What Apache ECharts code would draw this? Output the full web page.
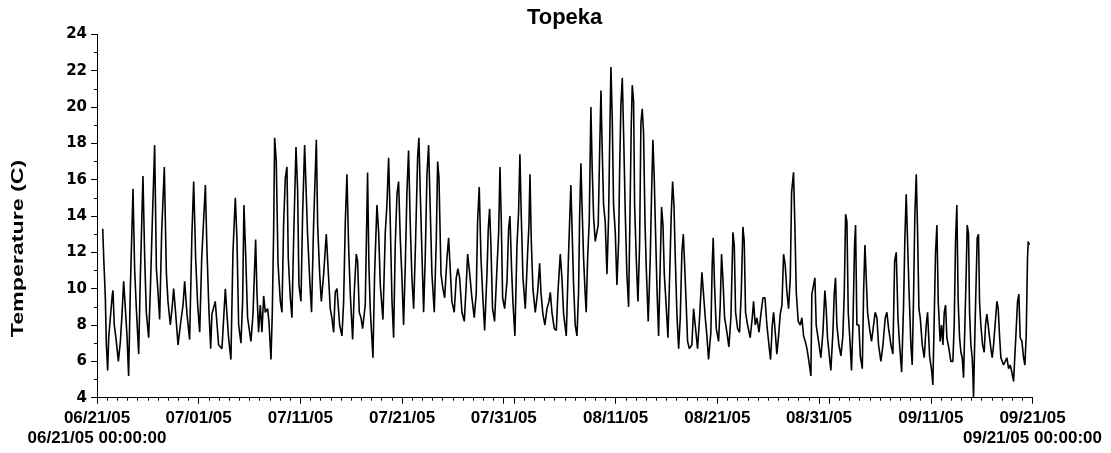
<!DOCTYPE html>
<html><head><meta charset="utf-8">
<script src="https://cdn.jsdelivr.net/npm/echarts@6/dist/echarts.min.js"></script>
<style>html,body{margin:0;padding:0;background:#fff}#c{width:1111px;height:453px}</style>
</head><body><div id="c"></div>
<script>
// ---- text ----
const chartTitle = 'Topeka';
const yAxisName = 'Temperature (C)';
const rangeStartLabel = '06/21/05 00:00:00';
const rangeEndLabel = '09/21/05 00:00:00';
// ---- x axis (days since 06/21/05 00:00) ----
const totalDays = 92;
const labelDays = [0, 10, 20, 30, 40, 51, 61, 71, 82, 92];
const tickLabels = ['06/21/05','07/01/05','07/11/05','07/21/05','07/31/05','08/11/05','08/21/05','08/31/05','09/11/05','09/21/05'];
const majorTickDays = [0, 10, 20, 30, 40, 41, 51, 61, 71, 72, 82, 92];
// ---- y axis ----
const yMin = 4, yMax = 24, yStep = 2;
// ---- readings: [day offset, temperature C] ----
const jun21_jul02 = [[0.56,13.3],[0.66,11.7],[0.82,9.5],[0.92,6.9],[1.05,5.5],[1.15,7.3],[1.31,8.4],[1.51,9.7],[1.57,9.9],[1.70,8.0],[1.90,7.1],[2.10,6.0],[2.30,7.1],[2.46,8.6],[2.62,10.4],[2.79,8.9],[2.95,7.4],[3.11,5.2],[3.28,10.0],[3.54,15.5],[3.70,11.1],[3.87,8.9],[4.10,6.4],[4.26,10.6],[4.52,16.2],[4.69,11.7],[4.85,8.7],[5.08,7.3],[5.25,10.0],[5.44,13.7],[5.67,17.9],[5.84,11.1],[6.0,9.8],[6.16,8.3],[6.36,13.1],[6.62,16.7],[6.82,10.9],[6.98,9.3],[7.21,8.0],[7.38,8.9],[7.54,10.0],[7.74,8.6],[7.97,6.9],[8.2,8.0],[8.46,9.1],[8.62,10.4],[8.85,8.6],[9.11,7.2],[9.34,13.1],[9.51,15.9],[9.70,11.7],[9.90,9.1],[10.1,7.6],[10.3,11.7],[10.66,15.7],[10.8,12.4],[11.0,8.9],[11.18,6.7]];
const jul02_jul13 = [[11.3,8.6],[11.63,9.3],[11.96,6.9],[12.29,6.7],[12.62,10.0],[12.78,8.6],[12.94,7.3],[13.17,6.1],[13.37,12.0],[13.6,15.0],[13.76,12.8],[13.93,8.0],[14.16,7.0],[14.32,9.3],[14.45,14.6],[14.62,11.9],[14.81,8.4],[15.14,7.1],[15.34,8.6],[15.6,12.7],[15.73,9.8],[15.89,7.6],[16.06,9.1],[16.22,7.6],[16.39,9.6],[16.55,8.7],[16.78,8.9],[16.91,8.2],[17.11,6.1],[17.24,8.7],[17.37,13.1],[17.47,18.3],[17.63,17.0],[17.8,11.4],[18.03,9.3],[18.19,8.7],[18.35,13.5],[18.52,16.1],[18.68,16.7],[18.81,11.7],[19.01,9.5],[19.17,8.4],[19.34,12.8],[19.57,17.8],[19.73,15.4],[19.86,10.2],[20.06,9.3],[20.22,14.1],[20.42,17.9],[20.58,18.0],[20.71,13.0],[20.91,10.6],[21.1,8.7],[21.3,13.5],[21.57,18.2],[21.7,13.5],[21.9,10.8],[22.06,9.3],[22.29,10.8],[22.55,13.0],[22.71,11.3],[22.94,8.9]];
const jul13_jul25 = [[23.1,8.4],[23.27,7.6],[23.43,9.8],[23.6,10.0],[23.86,8.0],[24.09,7.4],[24.25,9.2],[24.42,13.7],[24.58,16.3],[24.74,12.4],[24.91,9.7],[25.14,7.2],[25.3,9.8],[25.5,11.9],[25.63,11.5],[25.79,8.7],[25.96,8.4],[26.12,7.8],[26.38,9.1],[26.61,16.4],[26.74,11.3],[26.87,8.9],[27.14,6.2],[27.3,10.8],[27.53,14.6],[27.7,13.1],[27.86,10.2],[28.12,8.3],[28.35,13.1],[28.51,14.6],[28.68,17.2],[28.84,13.7],[29.01,9.3],[29.17,7.3],[29.33,12.4],[29.5,15.2],[29.66,15.9],[29.82,12.8],[29.99,10.6],[30.15,8.0],[30.32,11.3],[30.48,15.3],[30.64,17.6],[30.81,13.5],[30.97,10.6],[31.14,8.9],[31.33,12.6],[31.53,17.2],[31.66,18.3],[31.79,15.3],[31.96,11.9],[32.12,8.7],[32.28,11.7],[32.45,16.3],[32.61,17.9],[32.78,14.2],[32.94,10.8],[33.17,8.7],[33.37,12.8],[33.5,17.0],[33.63,16.1],[33.83,10.8],[34.02,10.0],[34.19,9.5],[34.42,11.7],[34.58,12.8]];
const jul25_aug06 = [[34.9,9.3],[35.13,8.7],[35.33,10.6],[35.49,11.1],[35.66,10.6],[35.89,8.7],[36.12,8.2],[36.31,10.2],[36.45,11.9],[36.64,10.9],[36.87,9.5],[37.1,8.4],[37.3,9.8],[37.43,13.7],[37.59,15.6],[37.76,11.7],[37.92,9.8],[38.12,7.7],[38.35,10.8],[38.48,13.3],[38.61,14.4],[38.74,12.4],[38.9,8.9],[39.1,8.2],[39.33,11.1],[39.5,13.1],[39.63,16.7],[39.76,13.7],[39.89,9.5],[40.09,8.9],[40.32,10.4],[40.48,13.3],[40.61,14.0],[40.77,11.1],[40.9,9.3],[41.1,7.4],[41.3,12.4],[41.46,14.2],[41.59,17.4],[41.72,14.1],[41.89,10.6],[42.12,8.9],[42.35,12.0],[42.48,13.5],[42.58,16.3],[42.71,12.6],[42.87,10.0],[43.1,8.7],[43.33,9.8],[43.53,11.4],[43.66,9.8],[43.85,8.6],[44.05,8.0],[44.25,8.9],[44.45,9.3],[44.58,9.8],[44.74,8.7],[44.97,7.8],[45.17,7.7],[45.33,9.8],[45.56,11.9],[45.72,10.6],[45.89,8.6],[46.15,7.4],[46.38,12.0],[46.6,15.7]];
const aug06_aug18 = [[46.87,10.2],[47.03,8.0],[47.2,7.4],[47.36,9.8],[47.46,13.9],[47.59,16.9],[47.72,14.2],[47.85,11.7],[48.0,9.8],[48.11,8.7],[48.25,11.7],[48.41,13.7],[48.57,20.0],[48.7,16.6],[48.84,13.9],[49.0,12.6],[49.16,13.1],[49.29,13.5],[49.43,17.5],[49.56,20.9],[49.69,17.5],[49.82,14.6],[49.98,13.7],[50.15,10.8],[50.31,13.9],[50.41,17.7],[50.54,22.2],[50.67,19.4],[50.8,14.6],[50.97,13.1],[51.13,10.2],[51.3,12.6],[51.39,16.3],[51.52,20.1],[51.66,21.6],[51.79,18.5],[51.95,14.2],[52.11,10.8],[52.28,9.0],[52.44,15.0],[52.54,19.0],[52.64,21.2],[52.77,20.3],[52.87,14.6],[53.03,11.7],[53.2,9.3],[53.36,12.4],[53.49,19.1],[53.62,19.9],[53.75,18.6],[53.89,13.7],[54.02,11.1],[54.21,8.2],[54.41,11.7],[54.54,15.3],[54.67,18.2],[54.8,16.1],[54.93,13.1],[55.07,10.0],[55.23,7.4],[55.39,11.3],[55.52,14.5],[55.66,13.5],[55.79,10.8],[55.95,9.3],[56.15,7.3],[56.31,10.6],[56.48,14.2],[56.61,15.9],[56.74,14.6],[56.87,11.7],[57.03,8.6],[57.2,6.7],[57.36,8.4],[57.52,12.0],[57.66,13.0],[57.79,11.3],[57.92,9.5],[58.08,7.1],[58.25,6.7]];
const aug18_aug31 = [[58.5,6.9],[58.67,8.9],[58.83,8.0],[59.06,6.7],[59.26,8.4],[59.49,10.9],[59.65,10.8],[59.82,8.4],[59.98,7.4],[60.14,6.1],[60.37,7.6],[60.5,11.3],[60.6,12.8],[60.73,10.2],[60.9,7.8],[61.13,7.1],[61.29,9.1],[61.42,11.9],[61.55,10.6],[61.72,8.4],[61.95,7.6],[62.14,6.8],[62.34,8.4],[62.54,13.1],[62.67,12.4],[62.8,8.7],[63.0,7.8],[63.19,7.6],[63.36,9.8],[63.52,13.4],[63.65,12.6],[63.78,8.7],[63.98,8.0],[64.24,7.3],[64.44,8.4],[64.57,9.3],[64.73,8.0],[64.9,8.4],[65.1,7.6],[65.29,8.6],[65.49,9.5],[65.69,9.5],[65.88,8.0],[66.08,6.9],[66.24,6.1],[66.41,8.0],[66.54,8.7],[66.7,7.6],[66.86,6.4],[67.03,7.4],[67.19,8.6],[67.36,9.1],[67.52,11.9],[67.68,11.3],[67.85,9.8],[68.01,8.9],[68.18,10.6],[68.31,15.3],[68.5,16.4],[68.63,13.5],[68.77,9.8],[68.96,8.2],[69.16,8.0],[69.32,8.4],[69.49,7.4],[69.65,7.1],[69.82,6.7],[70.01,6.0],[70.21,5.2]];
const aug31_sep11 = [[70.3,9.7],[70.6,10.6],[70.73,8.0],[70.96,7.1],[71.19,6.2],[71.39,7.6],[71.58,9.9],[71.71,8.9],[71.84,7.3],[72.04,6.2],[72.17,5.5],[72.37,7.6],[72.5,9.7],[72.63,10.6],[72.76,8.0],[72.96,6.9],[73.16,6.3],[73.35,7.4],[73.49,9.8],[73.62,14.1],[73.75,13.7],[73.88,8.7],[74.07,6.9],[74.2,5.5],[74.34,8.0],[74.5,12.4],[74.6,13.5],[74.73,8.0],[74.93,8.0],[75.06,6.3],[75.26,5.6],[75.39,9.8],[75.52,12.4],[75.65,10.6],[75.78,8.7],[75.98,7.8],[76.17,7.1],[76.37,8.0],[76.53,8.7],[76.7,8.4],[76.86,6.9],[77.09,6.0],[77.29,6.9],[77.52,8.4],[77.68,8.7],[77.85,7.8],[78.08,6.9],[78.27,6.4],[78.44,11.5],[78.6,12.0],[78.77,8.4],[78.93,6.9],[79.13,5.4],[79.32,9.1],[79.45,12.8],[79.58,15.2],[79.71,15.3],[79.84,10.2],[80.04,6.9],[80.17,5.8],[80.3,9.5],[80.43,14.1],[80.57,16.3],[80.7,13.1],[80.83,8.9],[80.96,8.4],[81.16,6.9],[81.35,6.2],[81.55,8.0],[81.68,8.7],[81.88,6.3]];
const sep11_sep21 = [[82.1,5.4],[82.2,4.7],[82.33,8.2],[82.46,11.9],[82.6,13.5],[82.73,9.3],[82.92,7.1],[83.06,8.0],[83.19,6.9],[83.32,8.7],[83.45,9.1],[83.58,7.3],[83.78,6.7],[83.97,6.0],[84.17,6.0],[84.3,8.0],[84.43,12.6],[84.56,14.6],[84.69,9.3],[84.83,7.3],[84.96,6.5],[85.09,6.2],[85.22,5.1],[85.35,8.0],[85.48,10.9],[85.58,13.5],[85.71,13.0],[85.81,8.7],[85.94,6.9],[86.07,6.2],[86.14,5.2],[86.2,4.0],[86.3,6.7],[86.43,9.8],[86.56,12.8],[86.69,13.0],[86.79,9.3],[86.92,8.0],[87.09,6.9],[87.25,6.5],[87.38,8.0],[87.51,8.6],[87.64,8.0],[87.78,7.3],[87.91,6.7],[88.04,6.2],[88.17,6.9],[88.33,6.9],[88.5,9.3],[88.63,8.9],[88.76,7.4],[88.89,6.2],[89.02,6.3],[89.15,5.8],[89.32,6.0],[89.48,6.2],[89.65,5.6],[89.81,5.8],[89.97,5.4],[90.14,4.9],[90.3,5.0],[90.4,7.8],[90.53,9.3],[90.66,9.7],[90.79,7.3],[90.96,7.1],[91.12,6.2],[91.25,5.8],[91.38,7.4],[91.51,11.7],[91.58,12.6],[91.68,12.4]];

const readings = [].concat(jun21_jul02, jul02_jul13, jul13_jul25, jul25_aug06, aug06_aug18, aug18_aug31, aug31_sep11, sep11_sep21);

const chart = echarts.init(document.getElementById('c'), null, {renderer: 'canvas'});
const txt = '#000';
const labelFont = {color: txt, fontFamily: 'Liberation Sans', fontWeight: 'bold', fontSize: 17, lineHeight: 20};
function dateLabel(v) {
  const i = labelDays.indexOf(Math.round(v));
  return i < 0 ? '' : tickLabels[i];
}
function rangeLabel(v) {
  const d = Math.round(v);
  return d === 0 ? rangeStartLabel : (d === totalDays ? rangeEndLabel : '');
}
chart.setOption({
  animation: false,
  backgroundColor: '#fff',
  grid: {left: 97, right: 78.5, top: 34.3, bottom: 55.3, containLabel: false, outerBoundsMode: 'none'},
  xAxis: [{
    type: 'value', min: 0, max: totalDays, position: 'bottom',
    axisLine: {show: true, onZero: false, lineStyle: {color: txt, width: 1}},
    axisTick: {show: true, customValues: majorTickDays, length: 6, lineStyle: {color: txt, width: 1}},
    axisLabel: Object.assign({customValues: labelDays, formatter: dateLabel, showMinLabel: true, showMaxLabel: true, margin: 11}, labelFont),
    splitLine: {show: false}
  }, {
    type: 'value', min: 0, max: totalDays, interval: 1, position: 'bottom',
    axisLine: {show: false, onZero: false},
    axisTick: {show: true, length: 3, lineStyle: {color: txt, width: 1}},
    axisLabel: {show: false}, splitLine: {show: false}
  }, {
    type: 'value', min: 0, max: totalDays, position: 'bottom',
    axisLine: {show: false, onZero: false},
    axisTick: {show: false},
    axisLabel: Object.assign({customValues: [0, totalDays], formatter: rangeLabel, showMinLabel: true, showMaxLabel: true, margin: 31}, labelFont),
    splitLine: {show: false}
  }],
  yAxis: {
    type: 'value', min: yMin, max: yMax, interval: yStep,
    axisLine: {show: true, onZero: false, lineStyle: {color: txt, width: 1}},
    axisTick: {show: true, length: 6, lineStyle: {color: txt, width: 1}},
    minorTick: {show: true, splitNumber: 2, length: 3, lineStyle: {color: txt, width: 1}},
    axisLabel: {color: txt, fontFamily: 'DejaVu Sans', fontWeight: 'bold', fontSize: 15, margin: 10},
    splitLine: {show: false}
  },
  graphic: [{
    type: 'text', x: 564.6, y: 18.3,
    style: {text: chartTitle, fill: txt, fontFamily: 'Liberation Sans', fontWeight: 'bold', fontSize: 22, align: 'center', verticalAlign: 'middle'}
  }, {
    type: 'text', x: 18.3, y: 248.5, rotation: Math.PI / 2, scaleX: 1.45,
    style: {text: yAxisName, fill: txt, fontFamily: 'Liberation Sans', fontWeight: 'bold', fontSize: 16, align: 'center', verticalAlign: 'middle'}
  }],
  series: [{
    type: 'line', xAxisIndex: 0, yAxisIndex: 0, data: readings,
    showSymbol: false, symbol: 'none', smooth: false,
    lineStyle: {color: '#000', width: 1.6}
  }]
});
</script>
</body></html>
